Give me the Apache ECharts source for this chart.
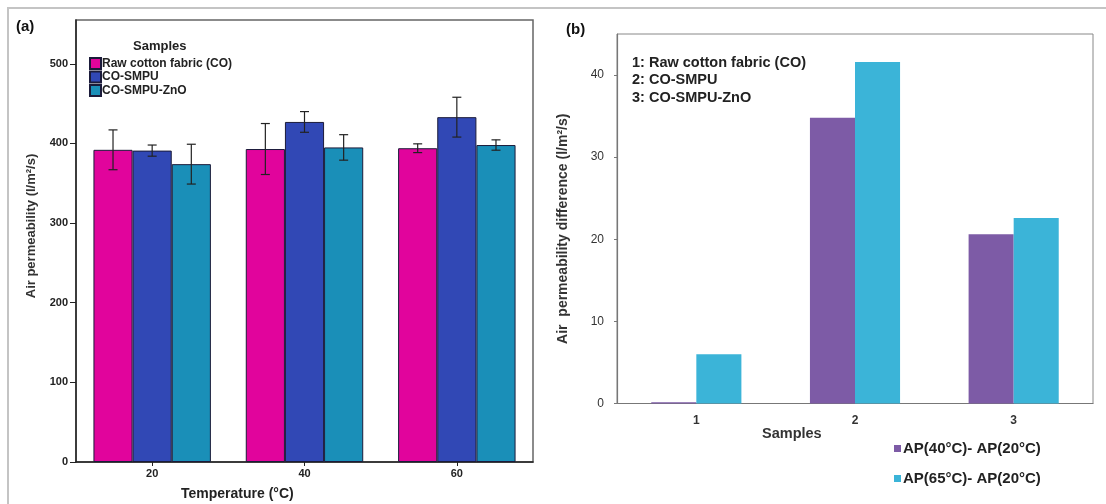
<!DOCTYPE html>
<html><head><meta charset="utf-8">
<script src="https://cdn.jsdelivr.net/npm/echarts@6/dist/echarts.min.js"></script>
<style>html,body{margin:0;padding:0;background:#fff}#c{width:1106px;height:504px}</style>
</head><body><div id="c"></div>
<script>
// ---- Panel (a) data ----
const tempCategories = ['20', '40', '60'];
const sampleNames = ['Raw cotton fabric (CO)', 'CO-SMPU', 'CO-SMPU-ZnO'];
const rawCO = [392, 393, 394];
const coSMPU = [391, 427, 433];
const coSMPUZnO = [374, 395, 398];
const rawCOErr = [25, 32, 5.5];
const coSMPUErr = [7, 13, 25];
const coSMPUZnOErr = [25, 16, 6.5];
const leftTicks = [0, 100, 200, 300, 400, 500];

// ---- Panel (b) data ----
const sampleCategories = ['1', '2', '3'];
const diffNames = ['AP(40°C)- AP(20°C)', 'AP(65°C)- AP(20°C)'];
const diff40 = [0.15, 34.8, 20.6];
const diff65 = [6.0, 41.6, 22.6];
const rightTicks = [0, 10, 20, 30, 40];

const LEFT_FRAC = 0.257;
const RIGHT_FRAC = 0.284;
const FONT = '"Liberation Sans", Arial, sans-serif';
const leftColors = ['#e1049c', '#3148b5', '#1a8fb8'];
const rightColors = ['#7d5ba6', '#3bb4d8'];

const leftVals = [rawCO, coSMPU, coSMPUZnO];
const leftErrs = [rawCOErr, coSMPUErr, coSMPUZnOErr];

function errSeries(k) {
  return {
    type: 'custom', name: 'err' + k, xAxisIndex: 0, yAxisIndex: 0, z: 5,
    data: leftVals[k].map((v, i) => [i, v, leftErrs[k][i]]),
    encode: { x: 0, y: 1 },
    renderItem: function (params, api) {
      const ci = api.value(0), m = api.value(1), e = api.value(2);
      const bw = api.size([1, 0])[0];
      const off = (k - 1) * bw * LEFT_FRAC;
      const t = api.coord([ci, m + e]);
      const b = api.coord([ci, m - e]);
      const x = t[0] + off;
      const h = 4.5;
      const st = { stroke: '#222', lineWidth: 1.2 };
      return { type: 'group', children: [
        { type: 'line', shape: { x1: x, y1: t[1], x2: x, y2: b[1] }, style: st },
        { type: 'line', shape: { x1: x - h, y1: t[1], x2: x + h, y2: t[1] }, style: st },
        { type: 'line', shape: { x1: x - h, y1: b[1], x2: x + h, y2: b[1] }, style: st }
      ]};
    }
  };
}

const series = [];
for (let k = 0; k < 3; k++) {
  series.push({
    type: 'bar', name: sampleNames[k], xAxisIndex: 0, yAxisIndex: 0,
    data: leftVals[k], barWidth: (LEFT_FRAC * 100) + '%', barGap: '0%',
    itemStyle: { color: leftColors[k], borderColor: '#1b1b3a', borderWidth: 1 }
  });
}
for (let k = 0; k < 3; k++) series.push(errSeries(k));
series.push({
  type: 'bar', name: diffNames[0], xAxisIndex: 1, yAxisIndex: 1,
  data: diff40, barWidth: (RIGHT_FRAC * 100) + '%', barGap: '0%',
  itemStyle: { color: rightColors[0] }
});
series.push({
  type: 'bar', name: diffNames[1], xAxisIndex: 1, yAxisIndex: 1,
  data: diff65, barWidth: (RIGHT_FRAC * 100) + '%', barGap: '0%',
  itemStyle: { color: rightColors[1] }
});

const chart = echarts.init(document.getElementById('c'), null, { renderer: 'canvas' });
chart.setOption({
  animation: false,
  backgroundColor: '#fff',
  textStyle: { fontFamily: FONT },
  title: [
    { text: '(a)', left: 16, top: 19, padding: 0, textStyle: { fontSize: 15, fontWeight: 'bold', color: '#111', fontFamily: FONT } },
    { text: '(b)', left: 566, top: 22, padding: 0, textStyle: { fontSize: 15, fontWeight: 'bold', color: '#111', fontFamily: FONT } },
    { text: 'Samples', left: 133, top: 40, padding: 0, textStyle: { fontSize: 13, fontWeight: 'bold', color: '#222', fontFamily: FONT } },
    { text: 'Temperature (°C)', left: 181, top: 487, padding: 0, textStyle: { fontSize: 14, fontWeight: 'bold', color: '#222', fontFamily: FONT } },
    { text: 'Samples', left: 762, top: 426, padding: 0, textStyle: { fontSize: 14.5, fontWeight: 'bold', color: '#333', fontFamily: FONT } },
    { text: '1: Raw cotton fabric (CO)\n2: CO-SMPU\n3: CO-SMPU-ZnO', left: 632, top: 54, padding: 0,
      textStyle: { fontSize: 14.5, fontWeight: 'bold', color: '#222', lineHeight: 17.5, fontFamily: FONT } }
  ],
  legend: [
    { data: sampleNames, orient: 'vertical', left: 89, top: 57, icon: 'rect', padding: 0,
      itemWidth: 11, itemHeight: 11, itemGap: 0.5,
      textStyle: { fontSize: 12, lineHeight: 13, fontWeight: 'bold', color: '#222', padding: [0, 0, 0, -4], fontFamily: FONT } },
    { data: diffNames, orient: 'vertical', left: 894, top: 441, icon: 'rect', padding: 0,
      itemWidth: 7, itemHeight: 7, itemGap: 15,
      textStyle: { fontSize: 15, fontWeight: 'bold', color: '#222', padding: [0, 0, 0, -3], fontFamily: FONT } }
  ],
  grid: [
    { left: 76, top: 20, width: 457, height: 442, show: true, borderColor: '#666', borderWidth: 1.5, containLabel: false },
    { left: 617, top: 34, width: 476, height: 369.5, show: true, borderColor: '#888', borderWidth: 1, containLabel: false }
  ],
  xAxis: [
    { type: 'category', gridIndex: 0, data: tempCategories,
      axisLine: { lineStyle: { color: '#222', width: 1.5 } },
      axisTick: { show: true, alignWithLabel: true, length: 4, lineStyle: { color: '#222' } },
      axisLabel: { fontSize: 11, fontWeight: 'bold', color: '#222', margin: 6 } },
    { type: 'category', gridIndex: 1, data: sampleCategories,
      axisLine: { lineStyle: { color: '#777', width: 1.2 } },
      axisTick: { show: false },
      axisLabel: { fontSize: 12, fontWeight: 'bold', color: '#333', margin: 11 } }
  ],
  yAxis: [
    { type: 'value', gridIndex: 0, min: 0, max: 555, interval: 100,
      name: 'Air permeability (l/m²/s)', nameLocation: 'middle', nameGap: 38,
      nameTextStyle: { fontSize: 13, fontWeight: 'bold', color: '#333', fontFamily: FONT, padding: [0, 0, 0, 30] },
      splitLine: { show: false },
      axisLine: { show: true, lineStyle: { color: '#222', width: 1.5 } },
      axisTick: { show: true, length: 6, lineStyle: { color: '#222' } },
      axisLabel: { fontSize: 11, fontWeight: 'bold', color: '#222', margin: 8, showMaxLabel: false,
        formatter: v => (leftTicks.indexOf(v) >= 0 ? String(v) : '') } },
    { type: 'value', gridIndex: 1, min: 0, max: 45, interval: 10,
      name: 'Air  permeability difference (l/m²/s)', nameLocation: 'middle', nameGap: 47,
      nameTextStyle: { fontSize: 14, fontWeight: 'bold', color: '#333', fontFamily: FONT, padding: [0, 20, 0, 0] },
      splitLine: { show: false },
      axisLine: { show: true, lineStyle: { color: '#777', width: 1.2 } },
      axisTick: { show: true, length: 3, lineStyle: { color: '#777' } },
      axisLabel: { fontSize: 12, color: '#333', margin: 13, showMaxLabel: false,
        formatter: v => (rightTicks.indexOf(v) >= 0 ? String(v) : '') } }
  ],
  graphic: [
    { type: 'polyline', silent: true, shape: { points: [[8, 504], [8, 8], [1106, 8]] },
      style: { stroke: '#c4c4c4', lineWidth: 2, fill: null } }
  ],
  series: series
});
</script></body></html>
